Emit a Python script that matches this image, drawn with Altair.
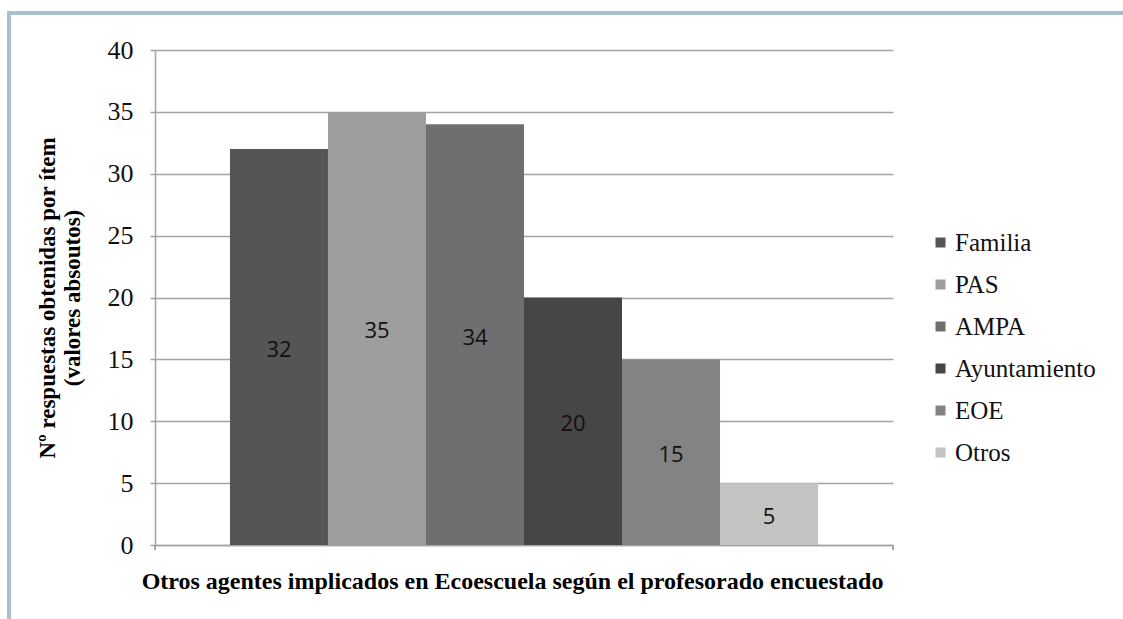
import altair as alt
import pandas as pd

# ---- data ----
agents = ["Familia", "PAS", "AMPA", "Ayuntamiento", "EOE", "Otros"]
counts = [32, 35, 34, 20, 15, 5]
y_ticks = [0, 5, 10, 15, 20, 25, 30, 35, 40]
palette = ["#555555", "#9e9e9e", "#6f6f6f", "#464646", "#838383", "#c3c3c3"]

x_title = "Otros agentes implicados en Ecoescuela según el profesorado encuestado"
y_title = ["Nº respuestas obtenidas por ítem", "(valores absoutos)"]

df = pd.DataFrame({"agent": agents, "count": counts})

W, H = 738, 495
SERIF = "Liberation Serif"
GRID = "#a3a3a3"

x_enc = alt.X(
    "agent:N",
    sort=agents,
    scale=alt.Scale(paddingInner=0, paddingOuter=0.765),
    axis=alt.Axis(
        labels=False, ticks=False, domain=True,
        domainColor=GRID, domainWidth=1.5,
        title=x_title, titleFont=SERIF, titleFontSize=24, titleFontWeight="bold",
        titleColor="#000000", titleX=357, titleY=43,
        titleBaseline="alphabetic", titleAlign="center",
    ),
)

y_axis = alt.Axis(
    values=y_ticks, title=y_title,
    titleFont=SERIF, titleFontSize=23, titleFontWeight="bold", titleColor="#000000",
    titleLineHeight=25, titleAngle=270, titleX=-108, titleY=H / 2,
    titleBaseline="middle", titleAlign="center",
    labelFont=SERIF, labelFontSize=26, labelColor="#111111", labelPadding=17,
    tickSize=5, tickColor=GRID, tickWidth=1.5,
    domainColor=GRID, domainWidth=1.5,
    grid=True, gridColor=GRID, gridWidth=1.5,
)

frame = alt.Chart(df).mark_rect(
    fillOpacity=0, stroke="#a9bfcf", strokeWidth=3
).encode(
    x=alt.value(-146), x2=alt.value(W + 240),
    y=alt.value(-37), y2=alt.value(H + 90),
)

bars = alt.Chart(df).mark_bar().encode(
    x=x_enc,
    y=alt.Y("count:Q", scale=alt.Scale(domain=[0, 40], nice=False), axis=y_axis),
    color=alt.Color(
        "agent:N",
        scale=alt.Scale(domain=agents, range=palette),
        legend=alt.Legend(
            orient="none", legendX=773, legendY=180, direction="vertical",
            title=None, symbolType="square", symbolSize=100, symbolStrokeWidth=0,
            labelFont=SERIF, labelFontSize=25, labelColor="#111111",
            labelOffset=2, rowPadding=16, padding=0,
        ),
    ),
)

labels = alt.Chart(df).transform_calculate(
    mid="datum.count / 2"
).mark_text(
    font="Open Sans", fontSize=22, color="#111111", baseline="middle", dy=3
).encode(
    x=alt.X("agent:N", sort=agents),
    y=alt.Y("mid:Q"),
    text="count:Q",
)

tick_left = alt.Chart(df).mark_rule(color=GRID, strokeWidth=1.5).encode(
    x=alt.value(0), y=alt.value(H), y2=alt.value(H + 5)
)
tick_right = alt.Chart(df).mark_rule(color=GRID, strokeWidth=1.5).encode(
    x=alt.value(W), y=alt.value(H), y2=alt.value(H + 5)
)

chart = alt.layer(frame, bars, labels, tick_left, tick_right).properties(
    width=W, height=H,
    autosize=alt.AutoSizeParams(type="none"),
    padding={"left": 155, "top": 50, "right": 230, "bottom": 74},
    background="white",
).configure_view(stroke=None)

chart.save("out.html", embed_options={"renderer": "svg", "actions": False})
